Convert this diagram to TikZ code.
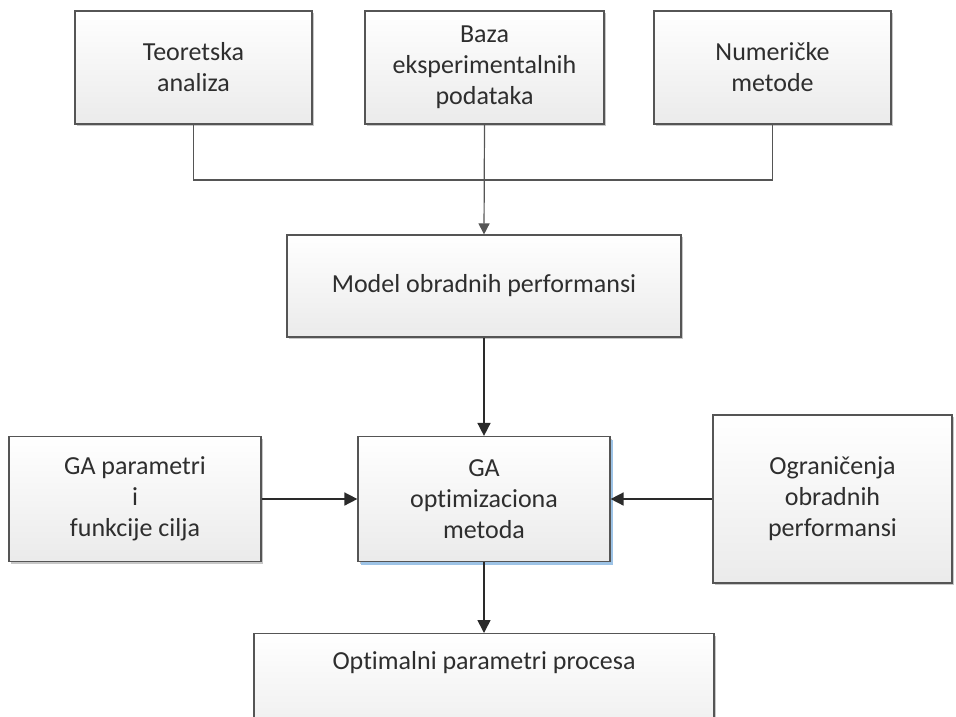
\documentclass[tikz,border=0pt]{standalone}
\usepackage{fontspec}
\setmainfont{Carlito}[Ligatures=NoCommon]
\usetikzlibrary{arrows.meta,shadows}
\definecolor{edgegray}{HTML}{555555}
\definecolor{textgray}{HTML}{2E2E2E}
\definecolor{linegray}{HTML}{2A2A2A}
\definecolor{shadowblue}{HTML}{9DC3E6}
\begin{document}
\begin{tikzpicture}[x=1pt,y=-1pt,
  % coordinates run downwards; shading and shadow offsets stay in page orientation
  box/.style={draw=edgegray, line width=1.2pt, top color=white, bottom color=black!8,
    text=textgray, align=center, inner sep=0pt,
    font=\fontsize{26}{31}\selectfont,
    drop shadow={shadow xshift=2pt, shadow yshift=-2pt, fill=black, opacity=0.22}},
  bluebox/.style={box, drop shadow={shadow xshift=3pt, shadow yshift=-3pt, fill=shadowblue, opacity=1}},
  feed/.style={draw=edgegray, line width=1.2pt},
  flow/.style={draw=linegray, line width=1.6pt, -{Triangle[length=13pt,width=13pt]}},
  feedarrow/.style={feed, -{Triangle[length=11pt,width=11pt]}}]
  \useasboundingbox (0,0) rectangle (956,716);
  \clip (0,0) rectangle (956,716);

  % sources of the model
  \node[box, minimum width=237pt, minimum height=113pt] (teo) at (193.5,67.5) {Teoretska\\analiza};
  \node[box, minimum width=239pt, minimum height=113pt] (baza) at (484.5,67.5) {Baza\\eksperimentalnih\\podataka};
  \node[box, minimum width=237pt, minimum height=113pt] (num) at (772.5,67.5) {Numeričke\\metode};

  % model and optimisation stage
  \node[box, minimum width=394pt, minimum height=102pt] (model) at (484,286) {Model obradnih performansi};
  \node[box, minimum width=252pt, minimum height=125pt] (gapar) at (135,499) {GA parametri\\i\\funkcije cilja};
  \node[bluebox, minimum width=252pt, minimum height=125pt] (ga) at (484,499) {GA\\optimizaciona\\metoda};
  \node[box, minimum width=239pt, minimum height=168pt] (ogr) at (832.5,499) {Ograničenja\\obradnih\\performansi};

  % result (runs past the lower edge)
  \node[box, minimum width=460pt, minimum height=120pt, anchor=north] (opt) at (484,633) {};
  \node[text=textgray, font=\fontsize{26}{31}\selectfont, inner sep=0pt] (optlabel) at (484,663) {Optimalni parametri procesa};

  % connectors
  \coordinate (join) at (484,180);
  \draw[feed] (teo.south) |- (join) -| (num.south);
  \draw[feedarrow] (baza.south) -- (model.north);
  \draw[flow] (model.south) -- (ga.north);
  \draw[flow] (gapar.east) -- (ga.west);
  \draw[flow] (ogr.west) -- (ga.east);
  \draw[flow] (ga.south) -- (opt.north);
\end{tikzpicture}
\end{document}
